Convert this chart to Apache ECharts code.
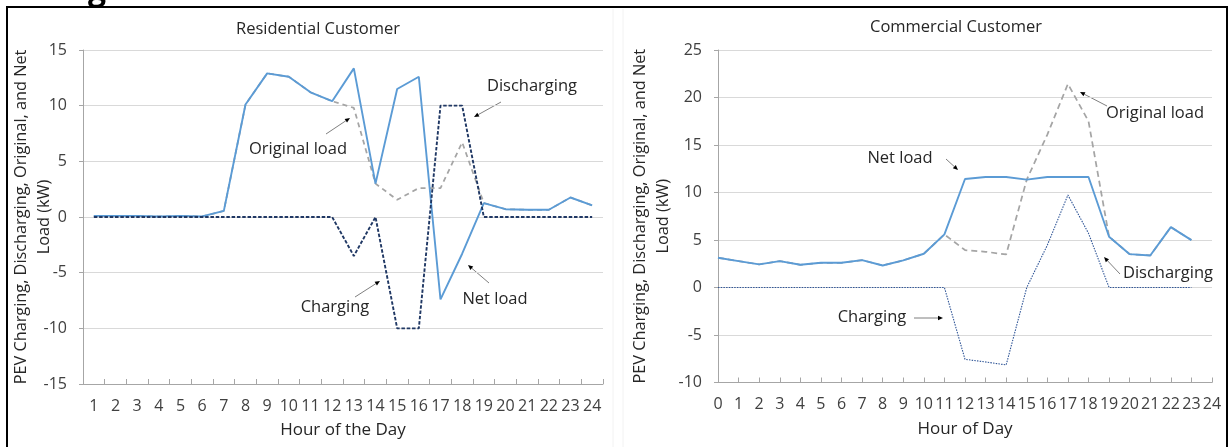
<!DOCTYPE html>
<html>
<head>
<meta charset="utf-8">
<script src="https://cdn.jsdelivr.net/npm/echarts@6/dist/echarts.min.js"></script>
<style>
html,body{margin:0;padding:0;background:#fff;}
#chart{width:1231px;height:447px;}
</style>
</head>
<body>
<div id="chart"></div>
<script>
// ---------- Data ----------
const resHours = ['1','2','3','4','5','6','7','8','9','10','11','12','13','14','15','16','17','18','19','20','21','22','23','24'];
const resNetLoad = [0.1,0.1,0.1,0.05,0.1,0.05,0.55,10.1,12.9,12.6,11.2,10.4,13.35,3.0,11.5,12.6,-7.4,-3.3,1.25,0.7,0.65,0.65,1.75,1.05];
const resOriginalLoad = [0.1,0.1,0.1,0.05,0.1,0.05,0.55,10.1,12.9,12.6,11.2,10.4,9.8,3.0,1.55,2.6,2.6,6.7,1.25,0.7,0.65,0.65,1.75,1.05];
const resPEV = [0,0,0,0,0,0,0,0,0,0,0,0,-3.5,0,-10,-10,10,10,0,0,0,0,0,0];

const comHours = ['0','1','2','3','4','5','6','7','8','9','10','11','12','13','14','15','16','17','18','19','20','21','22','23','24'];
const comNetLoad = [3.13,2.78,2.43,2.78,2.39,2.6,2.6,2.88,2.32,2.85,3.55,5.59,11.42,11.63,11.63,11.35,11.63,11.63,11.63,5.34,3.51,3.37,6.36,4.99];
const comOriginalLoad = [3.13,2.78,2.43,2.78,2.39,2.6,2.6,2.88,2.32,2.85,3.55,5.59,3.94,3.76,3.48,11.35,16.1,21.43,17.5,5.34,3.51,3.37,6.36,4.99];
const comPEV = [0,0,0,0,0,0,0,0,0,0,0,0,-7.56,-7.84,-8.15,0,4.46,9.74,5.7,0,0,0,0,0];

const resTitle = 'Residential Customer';
const comTitle = 'Commercial Customer';
const yName = 'PEV Charging, Discharging, Original, and Net\nLoad (kW)';

// ---------- Styles ----------
const FONT = 'Open Sans';
const labelColor = '#404040';
const textColor = '#262626';
const axisColor = '#A6A6A6';
const gridColor = '#D9D9D9';

function arrow(x1, y1, x2, y2) {
  const a = Math.atan2(y2 - y1, x2 - x1);
  const L = 5, W = 2.2;
  const bx = x2 - L * Math.cos(a), by = y2 - L * Math.sin(a);
  const px = -Math.sin(a) * W, py = Math.cos(a) * W;
  return [
    {type: 'line', silent: true, shape: {x1: x1, y1: y1, x2: bx, y2: by}, style: {stroke: '#7F7F7F', lineWidth: 1}},
    {type: 'polygon', silent: true, shape: {points: [[x2, y2], [bx + px, by + py], [bx - px, by - py]]}, style: {fill: '#000'}}
  ];
}
function label(text, cx, cy) {
  return {type: 'text', silent: true, x: cx, y: cy,
    style: {text: text, font: '16.5px "' + FONT + '"', fill: textColor, align: 'center', verticalAlign: 'middle'}};
}

function xAxisCfg(gridIndex, data, boundaryGap, name) {
  return {
    type: 'category', gridIndex: gridIndex, data: data, boundaryGap: boundaryGap,
    name: name, nameLocation: 'middle', nameGap: 38,
    nameTextStyle: {fontFamily: FONT, fontSize: 17, color: textColor},
    axisLine: {show: true, onZero: false, lineStyle: {color: axisColor, width: 1}},
    axisTick: {show: true, inside: true, length: 5, alignWithLabel: false, interval: 0, lineStyle: {color: axisColor}},
    axisLabel: {interval: 0, margin: 14, fontFamily: FONT, fontSize: 16, color: labelColor},
    splitLine: {show: false}
  };
}
function yAxisCfg(gridIndex, min, max, gap) {
  return {
    type: 'value', gridIndex: gridIndex, min: min, max: max, interval: 5,
    name: yName, nameLocation: 'middle', nameRotate: 90, nameGap: gap, nameMoveOverlap: false,
    nameTextStyle: {fontFamily: FONT, fontSize: 16.3, color: textColor, lineHeight: 23, align: 'center'},
    axisLine: {show: true, lineStyle: {color: axisColor, width: 1}},
    axisTick: {show: true, length: 4, lineStyle: {color: axisColor}},
    axisLabel: {margin: 16, fontFamily: FONT, fontSize: 16, color: labelColor},
    splitLine: {show: true, lineStyle: {color: gridColor, width: 1}}
  };
}

const chart = echarts.init(document.getElementById('chart'), null, {renderer: 'canvas'});

const option = {
  backgroundColor: '#fff',
  animation: false,
  title: [
    {text: resTitle, left: 318, top: 21, textAlign: 'center', padding: 0,
     textStyle: {fontFamily: FONT, fontSize: 16.5, fontWeight: 'normal', color: textColor}},
    {text: comTitle, left: 956, top: 19, textAlign: 'center', padding: 0,
     textStyle: {fontFamily: FONT, fontSize: 16.5, fontWeight: 'normal', color: textColor}}
  ],
  grid: [
    {left: 83, top: 50, width: 520, height: 334, containLabel: false},
    {left: 718, top: 50, width: 494, height: 332.5, containLabel: false}
  ],
  xAxis: [
    xAxisCfg(0, resHours, true, 'Hour of the Day'),
    xAxisCfg(1, comHours, false, 'Hour of Day')
  ],
  yAxis: [
    yAxisCfg(0, -15, 15, 27),
    yAxisCfg(1, -10, 25, 43)
  ],
  series: [
    {name: 'Original load', type: 'line', xAxisIndex: 0, yAxisIndex: 0, data: resOriginalLoad,
     showSymbol: false, lineStyle: {color: '#A5A5A5', width: 1.75, type: [5, 4]}, z: 2},
    {name: 'Net load', type: 'line', xAxisIndex: 0, yAxisIndex: 0, data: resNetLoad,
     showSymbol: false, lineStyle: {color: '#5B9BD5', width: 1.9, type: 'solid'}, z: 3},
    {name: 'Charging / Discharging', type: 'line', xAxisIndex: 0, yAxisIndex: 0, data: resPEV,
     showSymbol: false, lineStyle: {color: '#203864', width: 1.9, type: [3.5, 1.8]}, z: 4},

    {name: 'Original load', type: 'line', xAxisIndex: 1, yAxisIndex: 1, data: comOriginalLoad,
     showSymbol: false, lineStyle: {color: '#A5A5A5', width: 1.75, type: [6, 4]}, z: 2},
    {name: 'Net load', type: 'line', xAxisIndex: 1, yAxisIndex: 1, data: comNetLoad,
     showSymbol: false, lineStyle: {color: '#5B9BD5', width: 1.9, type: 'solid'}, z: 3},
    {name: 'Charging / Discharging', type: 'line', xAxisIndex: 1, yAxisIndex: 1, data: comPEV,
     showSymbol: false, lineStyle: {color: '#2F5597', width: 1.1, type: [1.5, 1.2]}, z: 4}
  ],
  graphic: [
    // frame
    {type: 'line', silent: true, shape: {x1: 6, y1: 7, x2: 1228, y2: 7}, style: {stroke: '#000', lineWidth: 2}},
    {type: 'line', silent: true, shape: {x1: 7, y1: 7, x2: 7, y2: 447}, style: {stroke: '#000', lineWidth: 2}},
    {type: 'line', silent: true, shape: {x1: 1227, y1: 7, x2: 1227, y2: 447}, style: {stroke: '#000', lineWidth: 2}},
    {type: 'line', silent: true, shape: {x1: 613, y1: 9, x2: 613, y2: 447}, style: {stroke: '#F2F2F2', lineWidth: 1}},
    {type: 'line', silent: true, shape: {x1: 623, y1: 9, x2: 623, y2: 447}, style: {stroke: '#F2F2F2', lineWidth: 1}},
    // cut-off heading glyph
    {type: 'text', silent: true, x: 88, y: -25, style: {text: 'g', font: 'bold 32px "' + FONT + '"', fill: '#000', verticalAlign: 'top'}},
    // left annotations
    label('Discharging', 532, 86), ...arrow(501, 102, 474, 117),
    label('Original load', 298, 149), ...arrow(326, 134, 350, 118),
    label('Charging', 335, 307), ...arrow(355, 297, 380, 281),
    label('Net load', 495, 299), ...arrow(489, 283, 468, 265),
    // right annotations
    label('Original load', 1155, 113), ...arrow(1107, 106, 1080, 92),
    label('Net load', 900, 158), ...arrow(946, 159, 958, 170),
    label('Discharging', 1168, 273), ...arrow(1120, 274, 1104, 257),
    label('Charging', 872, 317), ...arrow(914, 318, 943, 318)
  ]
};
chart.setOption(option);
</script>
</body>
</html>
